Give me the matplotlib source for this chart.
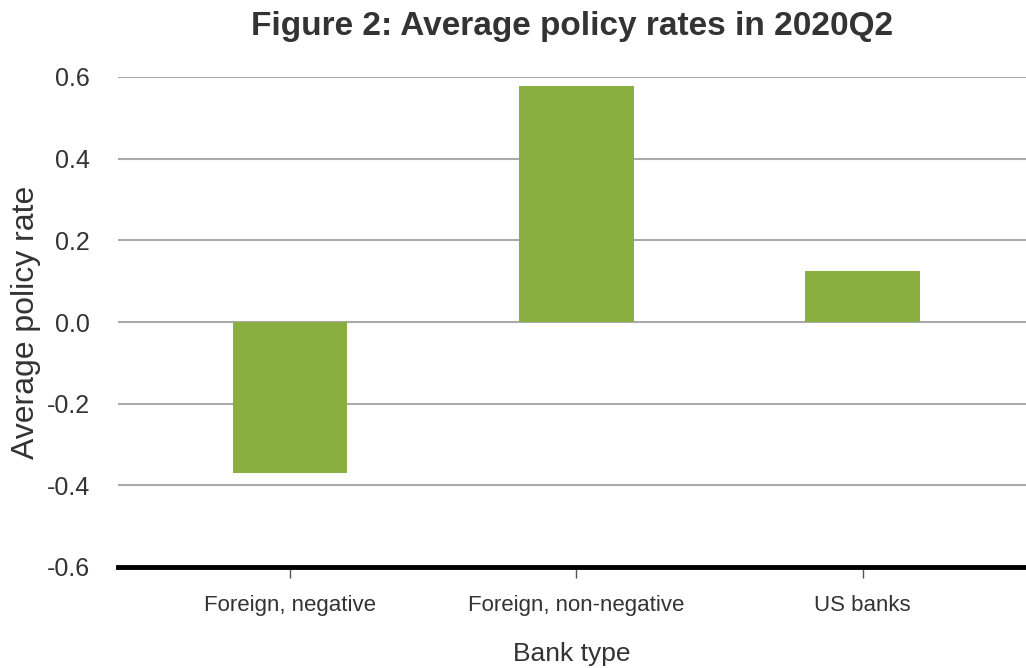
import matplotlib.pyplot as plt
from matplotlib import font_manager

# Narrow font if present, else regular Liberation Sans
names = {f.name for f in font_manager.fontManager.ttflist}
NARROW = 'Liberation Sans Narrow' if 'Liberation Sans Narrow' in names else 'Liberation Sans'
plt.rcParams['font.family'] = [NARROW, 'DejaVu Sans']

# Data
bank_types = ['Foreign, negative', 'Foreign, non-negative', 'US banks']
avg_rates = [-0.37, 0.578, 0.125]
y_ticks = [-0.6, -0.4, -0.2, 0.0, 0.2, 0.4, 0.6]

BAR_COLOR = '#8AAE3F'
GRID_COLOR = '#AAAAAA'
TEXT_COLOR = '#333333'

fig = plt.figure(figsize=(10.26, 6.68), dpi=100, facecolor='white')
ax = fig.add_axes([118 / 1026, 1 - 567 / 668, (1026 - 118) / 1026, (567 - 77) / 668])

x = list(range(len(bank_types)))
ax.bar(x, avg_rates, width=0.4, color=BAR_COLOR, zorder=3)

ax.set_ylim(-0.6, 0.6)
ax.set_xlim(-0.6, 2.57)
ax.set_yticks(y_ticks)
ax.set_yticklabels([f'{v:.1f}' for v in y_ticks])
ax.set_xticks(x)
ax.set_xticklabels(bank_types)

# Horizontal gridlines
for v in y_ticks[1:]:
    ax.axhline(v, color=GRID_COLOR, linewidth=1.5, zorder=1)

for side in ['top', 'right', 'left']:
    ax.spines[side].set_visible(False)
ax.spines['bottom'].set_color('black')
ax.spines['bottom'].set_linewidth(3.5)
ax.spines['bottom'].set_zorder(4)

ax.tick_params(axis='y', length=0, pad=20, labelsize=18, labelcolor=TEXT_COLOR)
ax.tick_params(axis='x', length=8, width=1, color='#555555', direction='out',
               pad=12, labelsize=16, labelcolor=TEXT_COLOR)

ax.set_xlabel('Bank type', fontsize=19, color=TEXT_COLOR, labelpad=19)
ax.set_ylabel('Average policy rate', fontsize=23, color=TEXT_COLOR,
              family=['Liberation Sans', 'DejaVu Sans'])
ax.yaxis.set_label_coords(-0.085, 0.5)
ax.set_title('Figure 2: Average policy rates in 2020Q2', fontsize=24,
             fontweight='bold', color=TEXT_COLOR, pad=30)

fig.savefig('out.png', dpi=100, facecolor='white')
